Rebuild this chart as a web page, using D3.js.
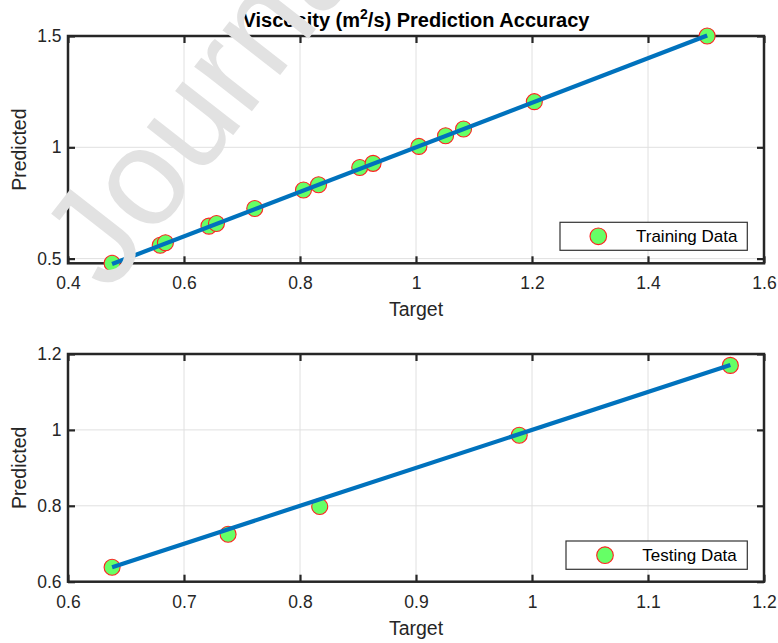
<!DOCTYPE html>
<html>
<head>
<meta charset="utf-8">
<script src="https://cdn.jsdelivr.net/npm/d3@7"></script>
<style>
  html, body { margin: 0; padding: 0; background: #fff; }
  svg { display: block; }
  text { font-family: "Liberation Sans", Arial, Helvetica, sans-serif; }
</style>
</head>
<body>
<svg id="chart" width="778" height="643"></svg>
<script>
// Training set: target vs. predicted viscosity (m^2/s)
const trainTarget    = [0.476, 0.559, 0.568, 0.643, 0.656, 0.722, 0.806, 0.832, 0.903, 0.926, 1.005, 1.051, 1.082, 1.204, 1.502];
const trainPredicted = [0.479, 0.560, 0.571, 0.646, 0.658, 0.725, 0.808, 0.832, 0.909, 0.928, 1.004, 1.052, 1.082, 1.205, 1.500];

// Testing set
const testTarget    = [0.638, 0.738, 0.817, 0.989, 1.171];
const testPredicted = [0.638, 0.725, 0.798, 0.986, 1.170];

// Axis ticks
const trainXTicks = [0.4, 0.6, 0.8, 1.0, 1.2, 1.4, 1.6];
const trainYTicks = [0.5, 1.0, 1.5];
const testXTicks  = [0.6, 0.7, 0.8, 0.9, 1.0, 1.1, 1.2];
const testYTicks  = [0.6, 0.8, 1.0, 1.2];

const svg = d3.select("#chart");
const AX = "#262626";
const fmt = d3.format("~g");

function panel(cfg) {
  const { xDomain, yDomain, left, right, top, bottom, target, predicted, xTicks, yTicks, legend, legendBox } = cfg;
  const x = d3.scaleLinear().domain(xDomain).range([left, right]);
  const y = d3.scaleLinear().domain(yDomain).range([bottom, top]);
  const g = svg.append("g");

  // grid
  g.append("g").selectAll("line").data(xTicks).join("line")
    .attr("x1", d => x(d)).attr("x2", d => x(d))
    .attr("y1", top).attr("y2", bottom)
    .attr("stroke", "#e0e0e0").attr("stroke-width", 1);
  g.append("g").selectAll("line").data(yTicks).join("line")
    .attr("x1", left).attr("x2", right)
    .attr("y1", d => y(d)).attr("y2", d => y(d))
    .attr("stroke", "#e0e0e0").attr("stroke-width", 1);

  // axes with inward ticks
  const styleAxis = sel => {
    sel.select(".domain").remove();
    sel.selectAll(".tick line").attr("stroke", AX).attr("stroke-width", 2.2);
    sel.selectAll(".tick text").attr("fill", AX).attr("font-size", 17.5);
  };
  g.append("g").attr("transform", `translate(0,${bottom})`)
    .call(d3.axisBottom(x).tickValues(xTicks).tickFormat(fmt).tickSizeInner(-7).tickSizeOuter(0).tickPadding(13.5))
    .call(styleAxis);
  g.append("g").attr("transform", `translate(0,${top})`)
    .call(d3.axisTop(x).tickValues(xTicks).tickFormat("").tickSizeInner(-7).tickSizeOuter(0))
    .call(styleAxis);
  g.append("g").attr("transform", `translate(${left},0)`)
    .call(d3.axisLeft(y).tickValues(yTicks).tickFormat(fmt).tickSizeInner(-7).tickSizeOuter(0).tickPadding(6.5))
    .call(styleAxis);
  g.append("g").attr("transform", `translate(${right},0)`)
    .call(d3.axisRight(y).tickValues(yTicks).tickFormat("").tickSizeInner(-7).tickSizeOuter(0))
    .call(styleAxis);

  // frame
  g.append("rect").attr("x", left).attr("y", top)
    .attr("width", right - left).attr("height", bottom - top)
    .attr("fill", "none").attr("stroke", AX).attr("stroke-width", 2.5);

  // markers
  const pts = target.map((t, i) => [t, predicted[i]]);
  g.append("g").selectAll("circle").data(pts).join("circle")
    .attr("cx", d => x(d[0])).attr("cy", d => y(d[1])).attr("r", 8)
    .attr("fill", "#66ff66").attr("stroke", "#ff2020").attr("stroke-width", 1.1);

  // ideal-fit line over the target span
  const [t0, t1] = d3.extent(target);
  g.append("line")
    .attr("x1", x(t0)).attr("y1", y(t0)).attr("x2", x(t1)).attr("y2", y(t1))
    .attr("stroke", "#0072bd").attr("stroke-width", 4.2);

  // axis labels
  g.append("text").attr("x", (left + right) / 2).attr("y", bottom + 53)
    .attr("text-anchor", "middle").attr("font-size", 19.5).attr("fill", AX).text("Target");
  g.append("text")
    .attr("transform", `translate(26,${(top + bottom) / 2}) rotate(-90)`)
    .attr("text-anchor", "middle").attr("font-size", 19.5).attr("fill", AX).text("Predicted");

  // legend
  const lb = legendBox;
  g.append("rect").attr("x", lb.x).attr("y", lb.y).attr("width", lb.w).attr("height", lb.h)
    .attr("fill", "#fff").attr("stroke", "#333").attr("stroke-width", 1.2);
  g.append("circle").attr("cx", lb.x + lb.mx).attr("cy", lb.y + lb.h / 2).attr("r", 8.3)
    .attr("fill", "#66ff66").attr("stroke", "#ff2020").attr("stroke-width", 1.1);
  g.append("text").attr("x", lb.x + lb.tx).attr("y", lb.y + lb.h / 2)
    .attr("dominant-baseline", "central").attr("font-size", 17).attr("fill", "#000").text(legend);

  return { x, y };
}

panel({
  xDomain: [0.4, 1.6], yDomain: [d3.min(trainPredicted), 1.5],
  left: 68, right: 764, top: 36, bottom: 263.3,
  target: trainTarget, predicted: trainPredicted,
  xTicks: trainXTicks, yTicks: trainYTicks,
  legend: "Training Data",
  legendBox: { x: 560, y: 222.3, w: 187.3, h: 28, mx: 38.3, tx: 76 }
});

panel({
  xDomain: [0.6, 1.2], yDomain: [0.6, 1.2],
  left: 68, right: 764, top: 354, bottom: 581.7,
  target: testTarget, predicted: testPredicted,
  xTicks: testXTicks, yTicks: testYTicks,
  legend: "Testing Data",
  legendBox: { x: 566, y: 541, w: 181.3, h: 28.3, mx: 39, tx: 76.3 }
});

// title with superscript
const title = svg.append("text").attr("x", 416).attr("y", 27)
  .attr("text-anchor", "middle").attr("font-size", 20).attr("font-weight", "bold").attr("fill", "#000");
title.append("tspan").text("Viscosity (m");
title.append("tspan").attr("font-size", 14).attr("dy", -8).text("2");
title.append("tspan").attr("dy", 8).text("/s) Prediction Accuracy");

// diagonal watermark drawn over the figure
svg.append("text")
  .attr("transform", "translate(109,294) rotate(-52)")
  .attr("font-size", 138).attr("fill", "#e2e2e2")
  .text("Journal Pre-proof");
</script>
</body>
</html>
